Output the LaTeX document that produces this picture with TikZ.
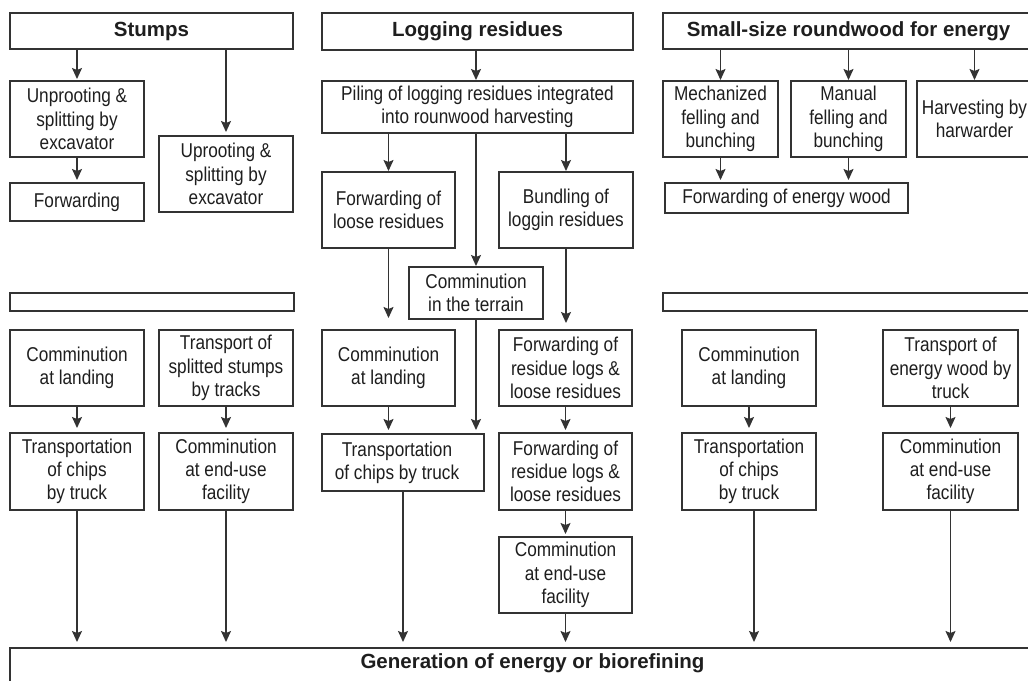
\documentclass[tikz,border=0pt]{standalone}
\usepackage{fontspec}
\setmainfont{Liberation Sans}[FakeStretch=0.86]
\newfontfamily\headfont{Liberation Sans}
\usetikzlibrary{arrows.meta}
\definecolor{linec}{HTML}{333333}
\definecolor{textc}{HTML}{1E1E1E}
\newcommand{\regfont}{\fontsize{20}{23.3}\selectfont}
\newcommand{\hdfont}{\headfont\bfseries\fontsize{20.5}{24}\selectfont}
\tikzset{
  box/.style={draw=linec, line width=1.3pt, inner sep=0pt, outer sep=0pt,
    align=center, font=\regfont, text=textc},
  head/.style={box, font=\hdfont},
  arr/.style={draw=linec, line width=1.3pt,
    -{Stealth[length=11pt,width=10pt,inset=2pt]}, shorten >=3pt},
  plain/.style={draw=linec, line width=1.3pt}
}
\begin{document}
\begin{tikzpicture}[x=1pt, y=-1pt]
\useasboundingbox (0,0) rectangle (1028,680);
\clip (0,0) rectangle (1028,680);
\fill[white] (0,0) rectangle (1028,680);

% --- column headings
\node[head, minimum width=283pt, minimum height=36pt] (stumps) at (151.5,31) {Stumps};
\node[head, minimum width=311pt, minimum height=37pt] (logres) at (477.5,31.5) {Logging residues};
\node[head, minimum width=371pt, minimum height=36pt] (small) at (848.5,31) {Small-size roundwood for energy};

% --- stumps: harvesting
\node[box, minimum width=134pt, minimum height=76pt] (unproot) at (77,119) {Unprooting \&\\splitting by\\excavator};
\node[box, minimum width=134pt, minimum height=38pt] (fwdA) at (77,202) {Forwarding};
\node[box, minimum width=134pt, minimum height=76pt] (uproot) at (226,174) {Uprooting \&\\splitting by\\excavator};

% --- logging residues: harvesting
\node[box, minimum width=311pt, minimum height=52pt] (piling) at (477.5,107) {Piling of logging residues integrated\\into rounwood harvesting};
\node[box, minimum width=133pt, minimum height=76pt] (fwdLoose) at (388.5,210) {Forwarding of\\loose residues};
\node[box, minimum width=134pt, minimum height=76pt] (bundle) at (566,210) {Bundling of\\loggin residues};
\node[box, minimum width=134pt, minimum height=52pt] (terrain) at (476,293) {Comminution\\in the terrain};

% --- small-size roundwood: harvesting
\node[box, minimum width=115pt, minimum height=76pt] (mech) at (720.5,119) {Mechanized\\felling and\\bunching};
\node[box, minimum width=115pt, minimum height=76pt] (manual) at (848.5,119) {Manual\\felling and\\bunching};
\node[box, minimum width=115pt, minimum height=76pt] (harv) at (974.5,119) {Harvesting by\\harwarder};
\node[box, minimum width=243pt, minimum height=30pt] (fwdEnergy) at (786.5,198) {Forwarding of energy wood};

% --- empty bars
\node[box, minimum width=284pt, minimum height=18pt] (barL) at (152,302) {};
\node[box, minimum width=371pt, minimum height=18pt] (barR) at (848.5,302) {};

% --- stumps: transport and comminution
\node[box, minimum width=134pt, minimum height=76pt] (commL) at (77,368) {Comminution\\at landing};
\node[box, minimum width=134pt, minimum height=76pt] (transS) at (226,368) {Transport of\\splitted stumps\\by tracks};
\node[box, minimum width=134pt, minimum height=77pt] (chipsL) at (77,471.5) {Transportation\\of chips\\by truck};
\node[box, minimum width=134pt, minimum height=77pt] (endL) at (226,471.5) {Comminution\\at end-use\\facility};

% --- logging residues: transport and comminution
\node[box, minimum width=133pt, minimum height=76pt] (commM) at (388.5,368) {Comminution\\at landing};
\node[box, minimum width=133pt, minimum height=76pt] (logs1) at (565.5,368) {Forwarding of\\residue logs \&\\loose residues};
\node[box, minimum width=162pt, minimum height=57pt] (chipsM) at (403,462.5) {Transportation\hspace*{12pt}\\of chips by truck\hspace*{12pt}};
\node[box, minimum width=133pt, minimum height=77pt] (logs2) at (565.5,471.5) {Forwarding of\\residue logs \&\\loose residues};
\node[box, minimum width=133pt, minimum height=76pt] (endM) at (565.5,575) {Comminution\\at end-use\\facility};

% --- small-size roundwood: transport and comminution
\node[box, minimum width=134pt, minimum height=76pt] (commR) at (749,368) {Comminution\\at landing};
\node[box, minimum width=135pt, minimum height=76pt] (truckR) at (950.5,368) {Transport of\\energy wood by\\truck};
\node[box, minimum width=134pt, minimum height=77pt] (chipsR) at (749,471.5) {Transportation\\of chips\\by truck};
\node[box, minimum width=135pt, minimum height=77pt] (endR) at (950.5,471.5) {Comminution\\at end-use\\facility};

% --- end use
\node[head, anchor=north west, minimum width=1045pt, minimum height=42pt,
      text height=15pt, text depth=17pt] (gen) at (10,648) {Generation of energy or biorefining};

% --- connectors: stumps
\draw[arr, shorten >=2pt] (unproot.north |- stumps.south) -- (unproot.north);
\draw[arr, shorten >=4pt] (uproot.north |- stumps.south) -- (uproot.north);
\draw[arr] (unproot.south) -- (fwdA.north);
\draw[arr, shorten >=5pt] (commL.south) -- (chipsL.north);
\draw[arr, shorten >=5pt] (transS.south) -- (endL.north);
\draw[arr, shorten >=6pt] (chipsL.south) -- (chipsL.south |- gen.north);
\draw[arr, shorten >=6pt] (endL.south) -- (endL.south |- gen.north);

% --- connectors: logging residues
\draw[arr, shorten >=1pt] (logres.south -| terrain.north) -- (piling.north -| terrain.north);
\draw[arr, shorten >=1pt] (fwdLoose.north |- piling.south) -- (fwdLoose.north);
\draw[arr, shorten >=1pt] (bundle.north |- piling.south) -- (bundle.north);
\draw[arr, shorten >=1pt] (piling.south -| terrain.north) -- (terrain.north);
\draw[arr, shorten >=12pt] (fwdLoose.south) -- (fwdLoose.south |- commM.north);
\draw[arr, shorten >=7pt] (bundle.south) -- (bundle.south |- logs1.north);
\draw[arr, shorten >=4pt] (commM.south) -- (commM.south |- chipsM.north);
\draw[arr, shorten >=4pt] (terrain.south) -- (terrain.south |- chipsM.north);
\draw[arr] (logs1.south) -- (logs2.north);
\draw[arr] (logs2.south) -- (endM.north);
\draw[arr, shorten >=6pt] (chipsM.south) -- (chipsM.south |- gen.north);
\draw[arr, shorten >=6pt] (endM.south) -- (endM.south |- gen.north);

% --- connectors: small-size roundwood
\draw[arr, shorten >=1pt] (mech.north |- small.south) -- (mech.north);
\draw[arr, shorten >=1pt] (manual.north |- small.south) -- (manual.north);
\draw[arr, shorten >=1pt] (harv.north |- small.south) -- (harv.north);
\draw[arr] (mech.south) -- (mech.south |- fwdEnergy.north);
\draw[arr] (manual.south) -- (manual.south |- fwdEnergy.north);
\draw[arr, shorten >=5pt] (commR.south) -- (chipsR.north);
\draw[arr, shorten >=5pt] (truckR.south) -- (endR.north);
\draw[arr, shorten >=6pt] ([xshift=5pt]chipsR.south) -- ([xshift=5pt]chipsR.south |- gen.north);
\draw[arr, shorten >=6pt] (endR.south) -- (endR.south |- gen.north);
\end{tikzpicture}
\end{document}
